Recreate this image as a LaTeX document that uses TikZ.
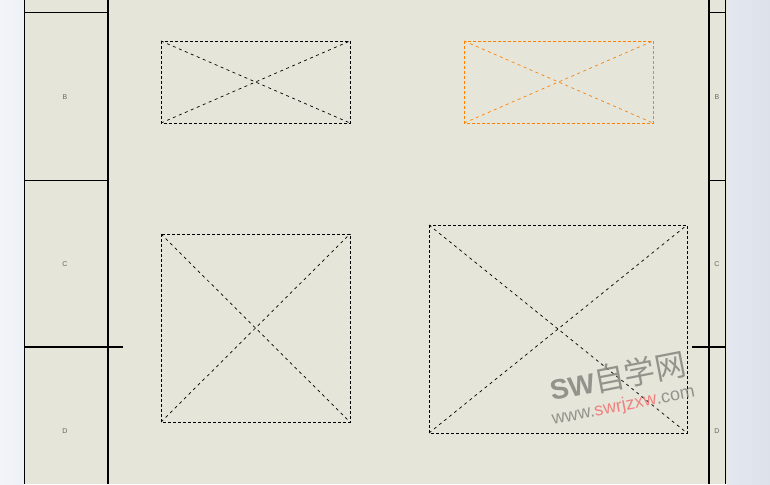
\documentclass[tikz,border=0pt]{standalone}
\usepackage{fontspec}
\setmainfont{Liberation Sans}
\newfontfamily\cjk{Noto Sans CJK SC}
\usetikzlibrary{calc}
\definecolor{sheet}{HTML}{E6E5DA}
\definecolor{bgleft}{HTML}{EDF0F6}
\definecolor{bgright}{HTML}{DDE1EA}
\definecolor{viewor}{HTML}{FF8000}
\definecolor{wmgray}{HTML}{85857F}
\definecolor{wmred}{HTML}{F07070}
\tikzset{
  x=1pt,y=-1pt,
  thinline/.style={black,line width=0.9pt},
  thickline/.style={black,line width=2pt},
  zonelabel/.style={font=\fontsize{7}{7}\selectfont,text=gray!80!black,inner sep=0pt},
  viewbox/.style={draw=black,line width=0.8pt,dash pattern=on 3pt off 2pt},
  viewdiag/.style={black,line width=0.7pt,dash pattern=on 3pt off 3.5pt},
}
\begin{document}
\begin{tikzpicture}
\useasboundingbox (0,0) rectangle (770,484);
% backgrounds
\shade[left color=bgleft!70!white,right color=bgleft] (0,0) rectangle (24,484);
\fill[sheet] (24,0) rectangle (727,484);
\shade[left color=bgright!80!white,right color=bgright] (727,0) rectangle (770,484);
% left border
\draw[thinline] (24,0) -- (24,484);
\draw[thickline] (108,0) -- (108,484);
\draw[thinline] (24,12) -- (108,12);
\draw[thinline] (24,180) -- (108,180);
\draw[thickline] (24,347) -- (123,347);
\node[zonelabel] (lb) at (65,97) {B};
\node[zonelabel] (lc) at (65,264) {C};
\node[zonelabel] (ld) at (65,431) {D};
% right border
\draw[thickline] (709,0) -- (709,484);
\draw[thinline] (725,0) -- (725,484);
\draw[thinline] (709,12) -- (725,12);
\draw[thinline] (709,180) -- (725,180);
\draw[thickline] (692,347) -- (725,347);
\node[zonelabel] (rb) at (717,97) {B};
\node[zonelabel] (rc) at (717,264) {C};
\node[zonelabel] (rd) at (717,431) {D};
% views
\coordinate (a1) at (161,41); \coordinate (a2) at (350,123);
\draw[viewbox] (a1) rectangle (a2);
\draw[viewdiag] (a1) -- (a2); \draw[viewdiag] (a1 |- a2) -- (a2 |- a1);
\coordinate (b1) at (464,41); \coordinate (b2) at (653,123);
\draw[viewbox,draw=viewor] (b1) rectangle (b2);
\draw[viewdiag,viewor] (b1) -- (b2); \draw[viewdiag,viewor] (b1 |- b2) -- (b2 |- b1);
\coordinate (c1) at (161,234); \coordinate (c2) at (350,422);
\draw[viewbox] (c1) rectangle (c2);
\draw[viewdiag] (c1) -- (c2); \draw[viewdiag] (c1 |- c2) -- (c2 |- c1);
\coordinate (d1) at (429,225); \coordinate (d2) at (687,433);
\draw[viewbox] (d1) rectangle (d2);
\draw[viewdiag] (d1) -- (d2); \draw[viewdiag] (d1 |- d2) -- (d2 |- d1);
% watermark
\node[rotate=11,opacity=0.85,inner sep=0pt,align=center] (wm) at (620,388)
  {\textcolor{wmgray}{\fontsize{28}{24}\selectfont\bfseries SW{\cjk\mdseries\fontsize{31}{24}\selectfont 自学网}}\\[7pt]
   \fontsize{18}{18}\selectfont\textcolor{wmgray}{www.}\textcolor{wmred}{swrjzxw}\textcolor{wmgray}{.com}};
\end{tikzpicture}
\end{document}
